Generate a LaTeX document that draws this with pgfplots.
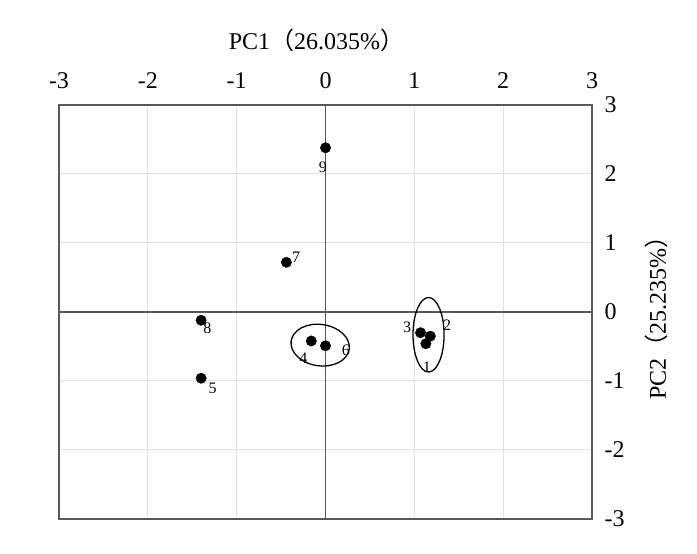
\documentclass[border=0pt]{standalone}
\usepackage{pgfplots}
\pgfplotsset{compat=1.18}
\usepackage{fontspec}
\setmainfont{Liberation Serif}
\newfontfamily\cjk{Noto Sans CJK SC}
\pgfplotstableread{
x y
1.13 -0.46
1.18 -0.35
1.07 -0.30
-0.16 -0.42
-1.40 -0.96
0.00 -0.49
-0.44 0.72
-1.40 -0.12
0.00 2.38
}\pts
\begin{document}
\begin{tikzpicture}
\begin{axis}[
  scale only axis, width=533pt, height=414pt,
  xmin=-3, xmax=3, ymin=-3, ymax=3,
  xtick={-3,-2,-1,0,1,2,3}, ytick={-3,-2,-1,0,1,2,3},
  xticklabel pos=top, yticklabel pos=right,
  major tick length=0pt,
  grid=major, grid style={black!12, line width=1pt},
  axis line style={black!65, line width=1.6pt},
  /pgf/number format/assume math mode=true,
  ticklabel style={font=\fontsize{24}{24}\selectfont},
  xticklabel style={yshift=13pt},
  yticklabel style={xshift=9pt},
  xlabel={PC1{\cjk （}26.035\%{\cjk ）}},
  ylabel={PC2{\cjk （}25.235\%{\cjk ）}},
  label style={font=\fontsize{24}{24}\selectfont},
  xlabel style={yshift=14pt, xshift=-9pt},
  ylabel style={yshift=-14pt},
  clip=false,
]
\draw[black!65, line width=1.6pt] (axis cs:0,-3) -- (axis cs:0,3);
\draw[black!65, line width=1.6pt] (axis cs:-3,0) -- (axis cs:3,0);
\addplot[only marks, mark=*, mark size=5.2pt, black] table[x=x,y=y] {\pts};
\draw[line width=1.3pt, rotate around={-8:(axis cs:-0.06,-0.48)}] (axis cs:-0.06,-0.48) ellipse [x radius=0.33, y radius=0.30];
\draw[line width=1.3pt] (axis cs:1.16,-0.33) ellipse [x radius=0.175, y radius=0.54];
\begin{scope}[every node/.style={font=\fontsize{16}{16}\selectfont, inner sep=0pt}]
\node at (axis cs:-0.03,2.10) {9};
\node at (axis cs:-0.33,0.80) {7};
\node at (axis cs:-1.33,-0.23) {8};
\node at (axis cs:-1.27,-1.10) {5};
\node at (axis cs:-0.25,-0.67) {4};
\node at (axis cs:0.23,-0.55) {6};
\node at (axis cs:0.92,-0.22) {3};
\node at (axis cs:1.37,-0.19) {2};
\node at (axis cs:1.14,-0.80) {1};
\end{scope}
\end{axis}
\path (current axis.south west) ++(-59pt,-35pt) coordinate (bl);
\path (current axis.north east) ++(105pt,105pt) coordinate (tr);
\path (bl) rectangle (tr);
\end{tikzpicture}
\end{document}
